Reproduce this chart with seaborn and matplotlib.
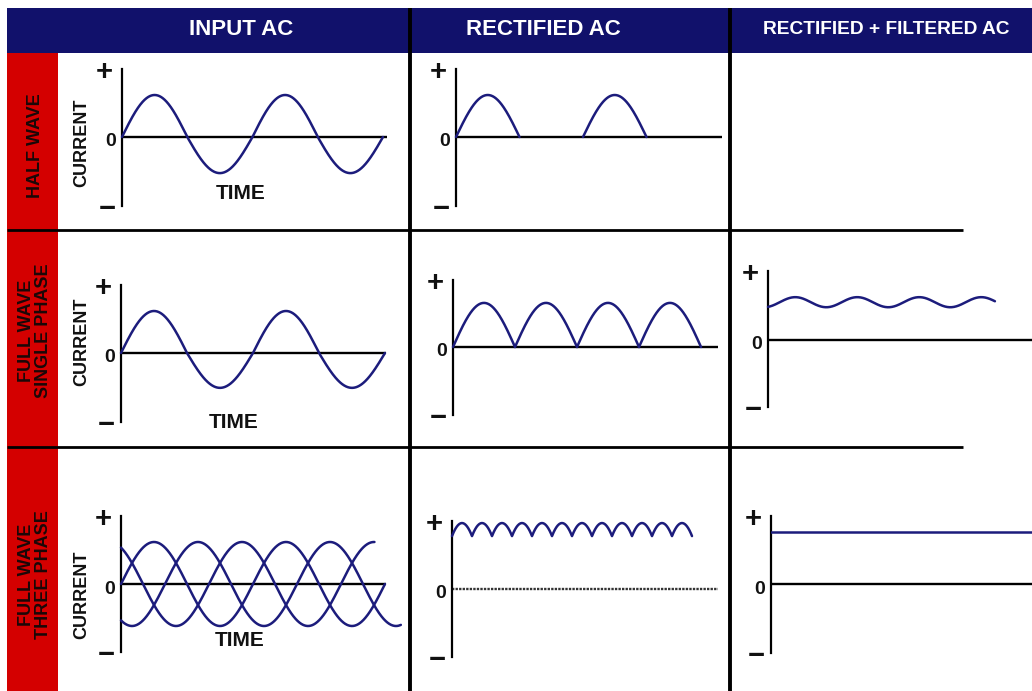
import numpy as np
import matplotlib.pyplot as plt
from matplotlib.patches import Rectangle
import seaborn as sns

# values
# current is in units of the input peak, time is in cycles of the input
input_peak_pos = [1.0, 1.0]          # half wave row, single phase row
input_peak_neg = [0.86, 0.83]
input_cycles = 2.0
three_phase_shift = [0, 120, -120]   # degrees
three_phase_end = [2.0, 1.92, 2.12]  # cycle where each trace stops
half_wave_starts = [0.0, 1.0]        # conducting half cycles
half_wave_peak = 1.0
full_wave_starts = [0.0, 0.5, 1.0, 1.5]
full_wave_peak = 1.05
three_rect_cycles = 2.0
three_rect_peak = 1.57
three_rect_cusp = 1.26
filt1_level = 0.90
filt1_ripple = 0.12
filt1_first_peak = 0.22
filt1_end = 1.83
filt3_level = 1.24
filt3_end = 2.2

col_titles = ['INPUT AC', 'RECTIFIED AC', 'RECTIFIED + FILTERED AC']
row_titles = ['HALF WAVE', 'FULL WAVE\nSINGLE PHASE', 'FULL WAVE\nTHREE PHASE']

NAVY = '#11116b'
RED = '#d40000'
BLUE = '#1c1c7c'
W, H = 1032, 691
PPU = 42  # pixels per current unit

# panel frames in pixels: axis x, top, bottom, zero, right end, px per cycle
boxes = {
    (0, 0): (122, 69, 206, 137, 387, 130.5),
    (1, 0): (121, 285, 422, 353, 386, 132),
    (2, 0): (121, 516, 652, 584, 386, 132),
    (0, 1): (456, 69, 206, 137, 722, 127),
    (1, 1): (453, 280, 415, 347, 718, 124),
    (2, 1): (452, 521, 657, 589, 718, 120),
    (1, 2): (768, 271, 407, 340, 1032, 124),
    (2, 2): (771, 516, 653, 584, 1032, 120),
}

sns.set_theme(style='white')
plt.rcParams['font.family'] = ['Liberation Sans', 'DejaVu Sans']
plt.rcParams['font.weight'] = 'bold'

fig = plt.figure(figsize=(W / 100, H / 100), dpi=100)
fig.patch.set_facecolor('white')

bg = fig.add_axes([0, 0, 1, 1])
bg.set_xlim(0, W)
bg.set_ylim(H, 0)
bg.axis('off')

# header and row band
bg.add_patch(Rectangle((7, 8), W - 7, 45, color=NAVY, lw=0))
bg.add_patch(Rectangle((7, 53), 51, H - 53, color=RED, lw=0))
for x in [410, 730]:
    bg.plot([x, x], [8, H], color='black', lw=2.8, solid_capstyle='butt')
for y in [230, 447]:
    bg.plot([7, 963], [y, y], color='black', lw=2.0, solid_capstyle='butt')

for x, t, fs in zip([241, 543, 886], col_titles, [16, 16, 13.8]):
    bg.text(x, 29, t, color='white', fontsize=fs, fontweight='bold', ha='center', va='center')
for y, t in zip([146, 331, 575], row_titles):
    bg.text(35, y, t, color='#1a0808', fontsize=13, fontweight='bold', rotation=90,
            ha='center', va='center', multialignment='center', linespacing=0.95)

for (x, y), (tx, ty) in zip([(82, 143), (82, 342), (82, 595)], [(241, 193), (234, 422), (240, 640)]):
    bg.text(x, y, 'CURRENT', fontsize=13, fontweight='bold', rotation=90, ha='center', va='center', color='#111111')
    bg.text(tx, ty, 'TIME', fontsize=15, fontweight='bold', ha='center', va='center', color='#111111')


def make_panel(key, zero_style='-'):
    ax_x, top, bot, zero, right, ppc = boxes[key]
    ax = fig.add_axes([ax_x / W, 1 - bot / H, (right - ax_x) / W, (bot - top) / H])
    ax.patch.set_alpha(0)
    for s in ['top', 'right', 'bottom']:
        ax.spines[s].set_visible(False)
    ax.spines['left'].set_linewidth(1.6)
    ax.spines['left'].set_color('black')
    ax.axhline(0, color='black' if zero_style == '-' else '#333333', lw=1.7,
               linestyle=zero_style, zorder=1)
    ax.annotate('+', (0, 1), xycoords='axes fraction', xytext=(-18, -3), textcoords='offset pixels',
                ha='center', va='center', fontsize=21, fontweight='bold', color='#111111')
    ax.annotate('0', (0, 0), xycoords=('axes fraction', 'data'), xytext=(-11, -5), textcoords='offset pixels',
                ha='center', va='center', fontsize=14, fontweight='bold', color='#111111')
    ax.annotate('\u2212', (0, 0), xycoords='axes fraction', xytext=(-15, -3), textcoords='offset pixels',
                ha='center', va='center', fontsize=21, fontweight='bold', color='#111111')
    return ax


def finish(ax, key):
    ax_x, top, bot, zero, right, ppc = boxes[key]
    ax.set_xlim(0, (right - ax_x) / ppc)
    ax.set_ylim((zero - bot) / PPU, (zero - top) / PPU)
    ax.set_xticks([])
    ax.set_yticks([])
    ax.set_xlabel('')
    ax.set_ylabel('')


def trace(ax, t, y, clip=False):
    sns.lineplot(x=t, y=y, ax=ax, color=BLUE, linewidth=1.8, estimator=None, sort=False, legend=False)
    ax.lines[-1].set_clip_on(clip)
    ax.lines[-1].set_zorder(3)


# input AC, half wave and single phase rows
for row in [0, 1]:
    ax = make_panel((row, 0))
    t = np.linspace(0, input_cycles, 801)
    s = np.sin(2 * np.pi * t)
    trace(ax, t, np.where(s > 0, s * input_peak_pos[row], s * input_peak_neg[row]))
    finish(ax, (row, 0))

# input AC, three phase
ax = make_panel((2, 0))
for shift, end in zip(three_phase_shift, three_phase_end):
    t = np.linspace(0, end, 801)
    trace(ax, t, np.sin(2 * np.pi * t + np.radians(shift)))
finish(ax, (2, 0))

# rectified, half wave
ax = make_panel((0, 1))
for start in half_wave_starts:
    t = np.linspace(start, start + 0.5, 200)
    trace(ax, t, half_wave_peak * np.sin(2 * np.pi * (t - start)))
finish(ax, (0, 1))

# rectified, full wave single phase
ax = make_panel((1, 1))
for start in full_wave_starts:
    t = np.linspace(start, start + 0.5, 200)
    trace(ax, t, full_wave_peak * np.sin(2 * np.pi * (t - start)))
finish(ax, (1, 1))

# rectified, full wave three phase
ax = make_panel((2, 1), zero_style=(0, (1.0, 0.5)))
t = np.linspace(0, three_rect_cycles, 1441)
m = np.max([np.abs(np.sin(2 * np.pi * t + np.radians(sh))) for sh in three_phase_shift], axis=0)
c30 = np.sqrt(3) / 2
trace(ax, t, three_rect_cusp + (three_rect_peak - three_rect_cusp) * (m - c30) / (1 - c30))
finish(ax, (2, 1))

# filtered, single phase
ax = make_panel((1, 2))
t = np.linspace(0, filt1_end, 400)
trace(ax, t, filt1_level + filt1_ripple * np.cos(4 * np.pi * (t - filt1_first_peak)))
finish(ax, (1, 2))

# filtered, three phase
ax = make_panel((2, 2))
t = np.array([0, filt3_end])
trace(ax, t, np.full(2, filt3_level), clip=True)
finish(ax, (2, 2))

fig.savefig('out.png', dpi=100, facecolor='white')
